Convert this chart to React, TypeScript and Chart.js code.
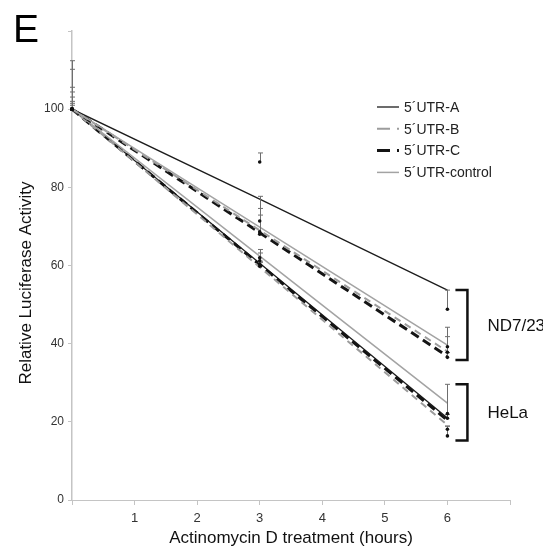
import React, { useEffect, useRef } from "react";
import { Chart, registerables } from "chart.js";

Chart.register(...registerables);

// ---- data ----
const hours = [0, 3, 6];
const seriesNames = ["5´UTR-A", "5´UTR-B", "5´UTR-C", "5´UTR-control"];
const groupNames = ["ND7/23", "HeLa"];

// trend lines (ND7/23)
const ndA = [100, 77.0, 53.7];
const ndB = [100, 69.0, 38.0];
const ndC = [100, 68.4, 36.8];
const ndCtrl = [100, 69.8, 39.6];
// trend lines (HeLa)
const helaA = [100, 60.6, 21.0];
const helaB = [100, 59.6, 19.2];
const helaC = [100, 60.2, 20.4];
const helaCtrl = [100, 62.4, 24.8];

// measured means and (+) error
const ndAMean = [100, 86.5, 48.8];
const ndAErr = [3.1, 2.3, 4.9];
const ndBMean = [100, 68.6, 37.8];
const ndBErr = [5.6, 6.0, 4.0];
const ndCMean = [100, 68.0, 36.5];
const ndCErr = [4.4, 4.9, 1.2];
const ndCtrlMean = [100, 71.4, 39.2];
const ndCtrlErr = [10.2, 6.3, 5.0];
const helaAMean = [100, 61.2, 20.9];
const helaAErr = [12.4, 2.9, 1.0];
const helaBMean = [100, 59.8, 18.1];
const helaBErr = [2.0, 1.0, 0.8];
const helaCMean = [100, 60.3, 16.4];
const helaCErr = [1.5, 0.8, 2.5];
const helaCtrlMean = [100, 62.0, 22.1];
const helaCtrlErr = [1.0, 1.2, 7.5];

// bracket spans (y values) per group
const ndSpan = [35.8, 53.7];
const helaSpan = [15.2, 29.6];

const xTickLabels = ["", "1", "2", "3", "4", "5", "6", ""];
const yTickLabels: Record<number, string> = { 0: "0", 20: "20", 40: "40", 60: "60", 80: "80", 100: "100", 120: "" };

// ---- styles ----
const styles = [
  { color: "#1c1c1c", width: 1.3, dash: [] as number[] },
  { color: "#9c9c9c", width: 2, dash: [7, 5] },
  { color: "#141414", width: 3, dash: [9, 5] },
  { color: "#a3a3a3", width: 1.5, dash: [] as number[] },
];

const FONT = "'Liberation Sans', Arial, sans-serif";

const fits = [
  [ndA, ndB, ndC, ndCtrl],
  [helaA, helaB, helaC, helaCtrl],
];
const means = [
  [ndAMean, ndBMean, ndCMean, ndCtrlMean],
  [helaAMean, helaBMean, helaCMean, helaCtrlMean],
];
const errs = [
  [ndAErr, ndBErr, ndCErr, ndCtrlErr],
  [helaAErr, helaBErr, helaCErr, helaCtrlErr],
];

const drawOrder = [3, 1, 2, 0];

const overlayPlugin = {
  id: "overlay",
  afterDatasetsDraw(chart: any) {
    const ctx = chart.ctx;
    const xs = chart.scales.x;
    const ys = chart.scales.y;
    ctx.save();
    // error bars
    ctx.strokeStyle = "#6e6e6e";
    ctx.lineWidth = 1;
    ctx.setLineDash([]);
    for (let g = 0; g < 2; g++) {
      for (let s = 0; s < 4; s++) {
        hours.forEach((h, i) => {
          const px = Math.round(xs.getPixelForValue(h)) + 0.5;
          const y0 = ys.getPixelForValue(means[g][s][i]);
          const y1 = ys.getPixelForValue(means[g][s][i] + errs[g][s][i]);
          ctx.beginPath();
          ctx.moveTo(px, y0);
          ctx.lineTo(px, y1);
          ctx.moveTo(px - 2.5, y1);
          ctx.lineTo(px + 2.5, y1);
          ctx.stroke();
        });
      }
    }
    // dots
    ctx.fillStyle = "#111";
    for (let g = 0; g < 2; g++) {
      for (let s = 0; s < 4; s++) {
        hours.forEach((h, i) => {
          const px = xs.getPixelForValue(h);
          const py = ys.getPixelForValue(means[g][s][i]);
          ctx.beginPath();
          ctx.arc(px, py, 1.8, 0, Math.PI * 2);
          ctx.fill();
        });
      }
    }
    // brackets
    const spans = [ndSpan, helaSpan];
    const bx = xs.getPixelForValue(6) + 20;
    ctx.strokeStyle = "#111";
    ctx.lineWidth = 2.5;
    ctx.fillStyle = "#111";
    ctx.font = `17px ${FONT}`;
    ctx.textBaseline = "middle";
    ctx.textAlign = "left";
    spans.forEach((sp, k) => {
      const yTop = ys.getPixelForValue(sp[1]);
      const yBot = ys.getPixelForValue(sp[0]);
      ctx.beginPath();
      ctx.moveTo(bx - 12, yTop);
      ctx.lineTo(bx, yTop);
      ctx.lineTo(bx, yBot);
      ctx.lineTo(bx - 12, yBot);
      ctx.stroke();
      ctx.fillText(groupNames[k], bx + 20, (yTop + yBot) / 2 + 1);
    });
    // legend
    ctx.font = `14px ${FONT}`;
    ctx.fillStyle = "#222";
    seriesNames.forEach((name, s) => {
      const y = 107 + s * 21.8;
      const st = styles[s];
      ctx.strokeStyle = st.color;
      ctx.lineWidth = st.width;
      ctx.setLineDash([]);
      ctx.beginPath();
      if (s === 1 || s === 2) {
        ctx.moveTo(377, y);
        ctx.lineTo(390, y);
        ctx.moveTo(397, y);
        ctx.lineTo(399, y);
      } else {
        ctx.moveTo(377, y);
        ctx.lineTo(399, y);
      }
      ctx.stroke();
      ctx.fillText(name, 404, y + 1);
    });
    // titles
    ctx.fillStyle = "#111";
    ctx.font = `17px ${FONT}`;
    ctx.textAlign = "center";
    ctx.fillText("Actinomycin D treatment (hours)", (xs.left + xs.right) / 2, 538);
    ctx.save();
    ctx.translate(26, 283);
    ctx.rotate(-Math.PI / 2);
    ctx.fillText("Relative Luciferase Activity", 0, 0);
    ctx.restore();
    ctx.font = `39px ${FONT}`;
    ctx.textAlign = "left";
    ctx.textBaseline = "alphabetic";
    ctx.fillStyle = "#000";
    ctx.fillText("E", 13, 42);
    ctx.restore();
  },
};

export default function App() {
  const ref = useRef<HTMLCanvasElement>(null);
  useEffect(() => {
    if (!ref.current) return;
    const datasets: any[] = [];
    for (let g = 0; g < 2; g++) {
      drawOrder.forEach((s) => {
        datasets.push({
          label: `${seriesNames[s]} ${groupNames[g]}`,
          data: hours.map((h, i) => ({ x: h, y: fits[g][s][i] })),
          borderColor: styles[s].color,
          borderWidth: styles[s].width,
          borderDash: styles[s].dash,
          pointRadius: 0,
          fill: false,
          tension: 0,
        });
      });
    }
    const chart = new Chart(ref.current, {
      type: "line",
      data: { datasets },
      options: {
        animation: false,
        responsive: false,
        layout: { padding: { left: 0, right: 33, top: 31, bottom: 0 } },
        plugins: { legend: { display: false }, tooltip: { enabled: false } },
        scales: {
          x: {
            type: "linear",
            min: 0,
            max: 7,
            afterFit: (s: any) => {
              s.height = 48;
            },
            ticks: {
              stepSize: 1,
              autoSkip: false,
              maxRotation: 0,
              padding: 6,
              color: "#333",
              font: { family: FONT, size: 13 },
              callback: (v: any) => xTickLabels[Number(v)] ?? "",
            },
            grid: { display: true, drawOnChartArea: false, drawTicks: true, tickLength: 5, color: "#c4c4c4" },
            border: { color: "#c4c4c4", width: 1 },
          },
          y: {
            min: 0,
            max: 120,
            afterFit: (s: any) => {
              s.width = 72;
            },
            ticks: {
              stepSize: 20,
              padding: 4,
              color: "#333",
              font: { family: FONT, size: 12 },
              callback: (v: any) => yTickLabels[Number(v)] ?? "",
            },
            grid: { display: true, drawOnChartArea: false, drawTicks: true, tickLength: 4, color: "#c4c4c4" },
            border: { color: "#c4c4c4", width: 1.5 },
          },
        },
      },
      plugins: [overlayPlugin],
    });
    return () => chart.destroy();
  }, []);
  return (
    <div style={{ position: "absolute", left: 0, top: 0, width: 543, height: 548, background: "#fff" }}>
      <canvas ref={ref} width={543} height={548} style={{ width: 543, height: 548 }} />
    </div>
  );
}
